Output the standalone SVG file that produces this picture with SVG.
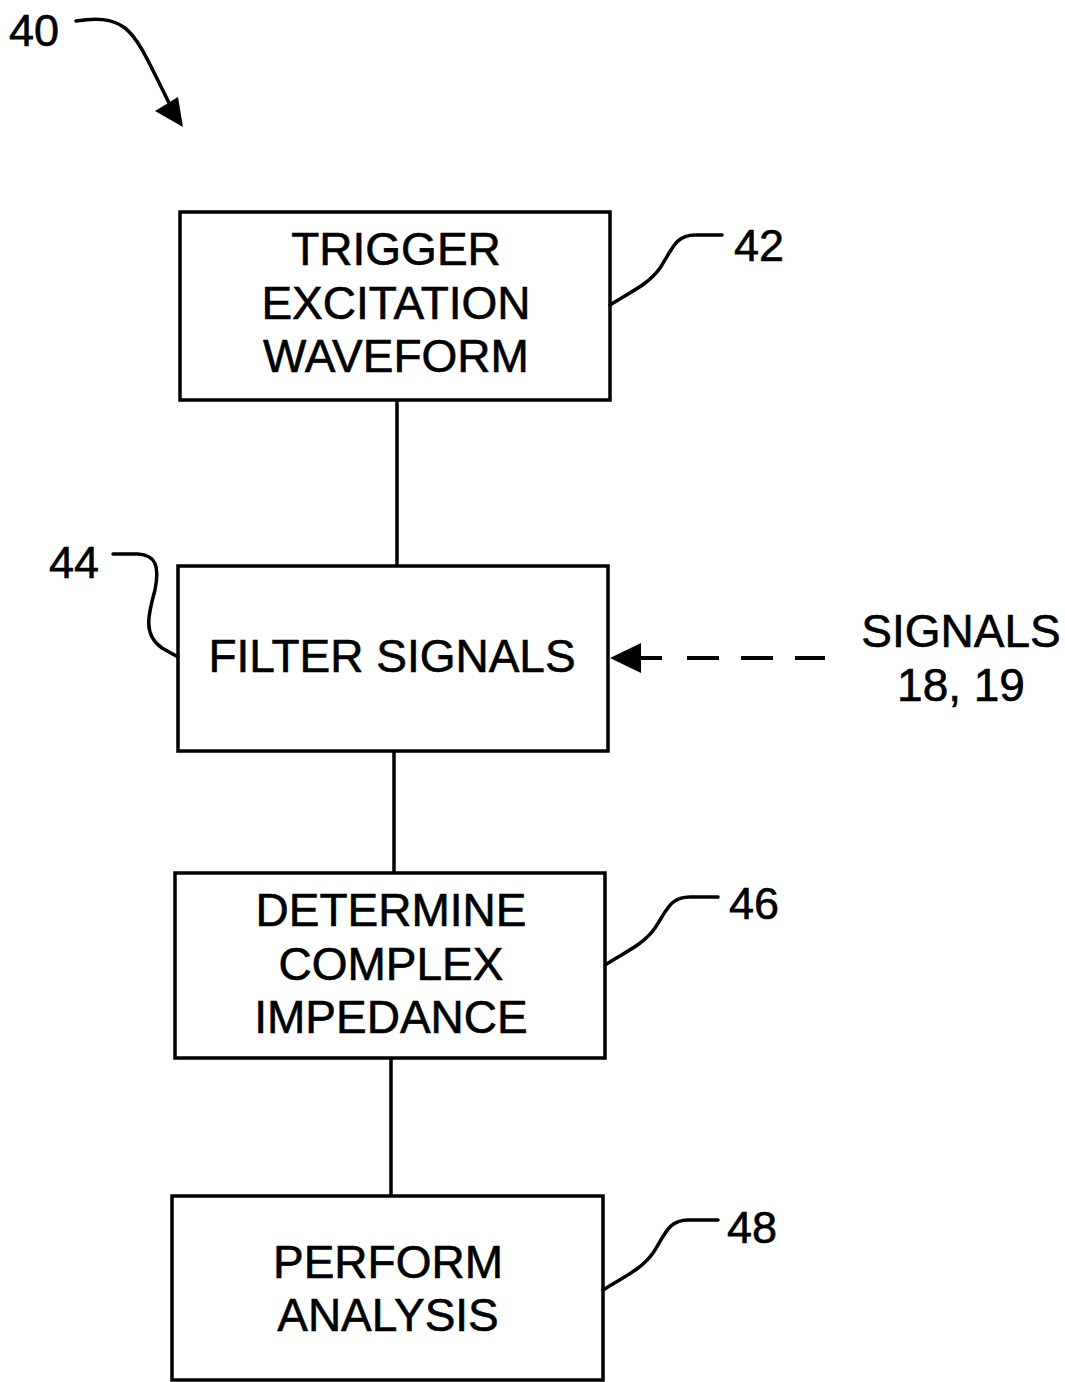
<svg xmlns="http://www.w3.org/2000/svg" width="1065" height="1382" viewBox="0 0 1065 1382">
<style>
.box{fill:#fff;stroke:#000;stroke-width:3.5}
.ln{fill:none;stroke:#000;stroke-width:3.5;stroke-linecap:round}
.t{font-family:"Liberation Sans",Arial,sans-serif;font-size:46px;fill:#000;stroke:#000;stroke-width:0.6;text-anchor:middle}
.n{font-family:"Liberation Sans",Arial,sans-serif;font-size:45px;fill:#000;stroke:#000;stroke-width:0.6}
</style>
<rect width="1065" height="1382" fill="#fff"/>
<g id="connectors">
<line class="ln" x1="397" y1="400" x2="397" y2="566"/>
<line class="ln" x1="394" y1="751" x2="394" y2="873"/>
<line class="ln" x1="391" y1="1058" x2="391" y2="1196"/>
<line x1="640" y1="658" x2="825" y2="658" stroke="#000" stroke-width="4" stroke-dasharray="22,25,32,22,32,22,30,50"/>
<polygon points="610,658 641,643 641,673" fill="#000"/>
</g>
<g id="ref40">
<text class="n" x="9" y="46">40</text>
<path class="ln" d="M76,21 C95,18 112,18 125,28 C140,40 150,65 170,105"/>
<polygon points="155,111 178,97 183,127" fill="#000"/>
</g>
<g id="node42">
<rect class="box" x="180" y="212" width="430" height="188"/>
<text class="t" x="396" y="265">TRIGGER</text>
<text class="t" x="396" y="319">EXCITATION</text>
<text class="t" x="396" y="372">WAVEFORM</text>
<path class="ln" d="M610,305 C630,292 648,285 660,268 C672,250 675,235 695,235 L722,235"/>
<text class="n" x="734" y="261">42</text>
</g>
<g id="node44">
<rect class="box" x="178" y="566" width="430" height="185"/>
<text class="t" x="392" y="672">FILTER SIGNALS</text>
<path class="ln" d="M113,554 L138,554 C155,555 160,565 155,590 C148,615 143,635 162,648 L178,657"/>
<text class="n" x="49" y="578">44</text>
</g>
<g id="node46">
<rect class="box" x="175" y="873" width="430" height="185"/>
<text class="t" x="391" y="926">DETERMINE</text>
<text class="t" x="391" y="980">COMPLEX</text>
<text class="t" x="391" y="1033">IMPEDANCE</text>
<path class="ln" d="M605,965 C625,952 643,945 655,928 C667,910 670,897 690,897 L718,897"/>
<text class="n" x="729" y="919">46</text>
</g>
<g id="node48">
<rect class="box" x="172" y="1196" width="431" height="184"/>
<text class="t" x="388" y="1278">PERFORM</text>
<text class="t" x="388" y="1331">ANALYSIS</text>
<path class="ln" d="M603,1290 C623,1277 641,1270 653,1253 C665,1235 668,1220 688,1220 L718,1220"/>
<text class="n" x="727" y="1243">48</text>
</g>
<g id="signals">
<text class="t" x="961" y="647">SIGNALS</text>
<text class="t" x="961" y="701">18, 19</text>
</g>
</svg>
